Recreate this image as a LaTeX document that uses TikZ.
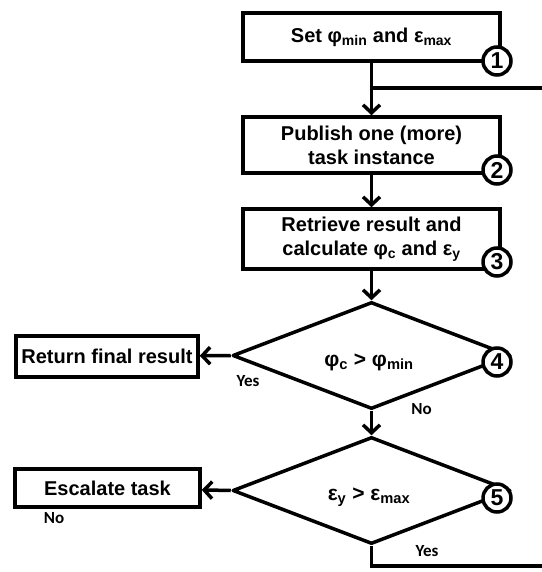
\documentclass[tikz,border=0pt]{standalone}
\usepackage{fontspec}
\setmainfont{Liberation Sans}
\newfontfamily\lblfont{Carlito}
\usetikzlibrary{shapes.geometric,arrows.meta}

\tikzset{
  stepbox/.style={draw, line width=3.5bp, fill=white, align=center, inner sep=0pt,
    font=\fontsize{20bp}{24bp}\selectfont\bfseries},
  stepnum/.style={circle, draw, line width=3.5bp, fill=white, minimum size=28bp, inner sep=0pt,
    font=\fontsize{23bp}{23bp}\selectfont\bfseries},
  check/.style={diamond, draw, line width=3.5bp, line join=round, inner sep=0pt, minimum width=278bp, minimum height=107bp},
  flow/.style={line width=3.5bp, -{Straight Barb[length=8bp,width=17bp]}},
  link/.style={line width=3.5bp},
  lbl/.style={font=\fontsize{17bp}{17bp}\lblfont\bfseries},
  cond/.style={font=\fontsize{21bp}{21bp}\selectfont\bfseries}
}

\begin{document}
\begin{tikzpicture}[x=1bp,y=-1bp]
    \useasboundingbox (0,0) rectangle (542,572);
    \node[stepbox, minimum width=257bp, minimum height=48bp] (set) at (371.5,37) {Set φ\textsubscript{min} and ε\textsubscript{max}};
    \node[stepbox, minimum width=257bp, minimum height=56bp] (publish) at (371.5,145) {Publish one (more)\\task instance};
    \node[stepbox, minimum width=257bp, minimum height=60bp] (retrieve) at (371.5,239) {Retrieve result and\\calculate φ\textsubscript{c} and ε\textsubscript{y}};
    \node[check] (check1) at (371.5,355.5) {};
    \node[check] (check2) at (371.5,490.5) {};
    \node[cond] (cond1) at (369,362) {φ\textsubscript{c} > φ\textsubscript{min}};
    \node[cond] (cond2) at (369,497) {ε\textsubscript{y} > ε\textsubscript{max}};
    \node[stepbox, minimum width=182bp, minimum height=41bp] (return) at (107,356.5) {Return final result};
    \node[stepbox, minimum width=185bp, minimum height=38bp] (escalate) at (107.5,488) {Escalate task};

    \coordinate (merge) at (371.5,88);
    \coordinate (loopin) at (542,88);
    \coordinate (loopout) at (542,566);

    \draw[flow] (set) -- (publish);
    \draw[link] (merge) -- (loopin);
    \draw[flow] (publish) -- (retrieve);
    \draw[flow] (retrieve) -- (check1);
    \draw[flow] (check1.west) -- (return);
    \draw[flow] (check1.south) -- (check2.north);
    \draw[flow] (check2.west) -- (escalate);
    \draw[link] (check2.south) |- (loopout);

    \node[stepnum] (n1) at (497,61) {1};
    \node[stepnum] (n2) at (497,170) {2};
    \node[stepnum] (n3) at (497,262) {3};
    \node[stepnum] (n4) at (497,362) {4};
    \node[stepnum] (n5) at (497,498) {5};

    \node[lbl] (yes1) at (248,381) {Yes};
    \node[lbl] (no1) at (421.5,409) {No};
    \node[lbl] (no2) at (54,518) {No};
    \node[lbl] (yes2) at (427,551) {Yes};
\end{tikzpicture}
\end{document}
